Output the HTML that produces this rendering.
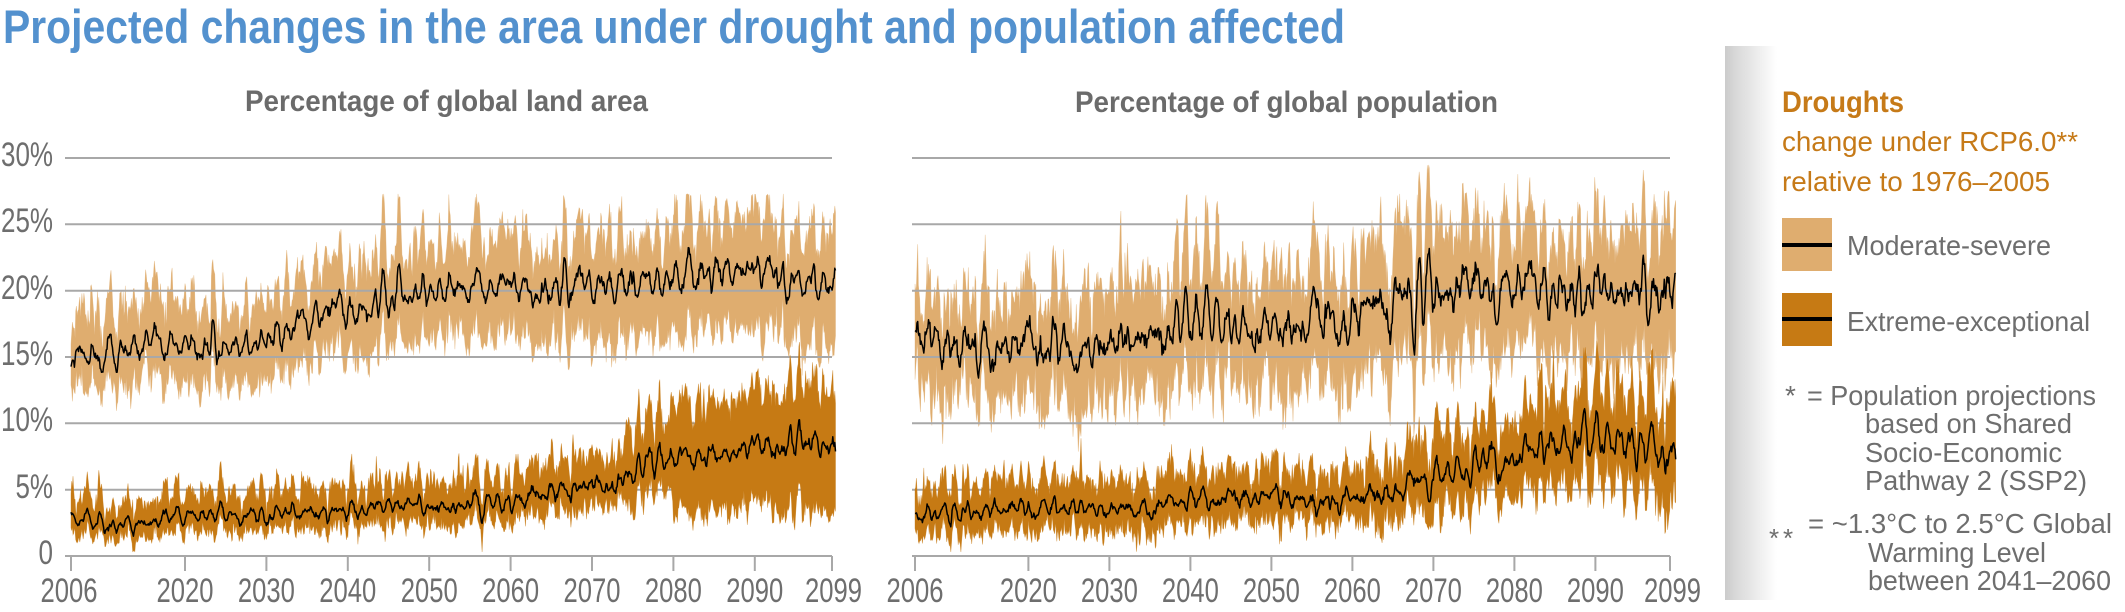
<!DOCTYPE html>
<html><head><meta charset="utf-8">
<style>
html,body{margin:0;padding:0;background:#fff;width:2125px;height:612px;overflow:hidden}
svg{display:block}
text{font-family:"Liberation Sans",Arial,sans-serif}
</style></head><body>
<svg id="c" width="2125" height="612" viewBox="0 0 2125 612" xmlns="http://www.w3.org/2000/svg">
<defs>
<linearGradient id="lg" x1="0" x2="1" y1="0" y2="0">
<stop offset="0" stop-color="#cbcbcb"/><stop offset="0.2" stop-color="#d8d8d8"/><stop offset="1" stop-color="#ffffff"/>
</linearGradient>
</defs>
<rect x="0" y="0" width="2125" height="612" fill="#fff"/>
<rect x="1725" y="46" width="52" height="554" fill="url(#lg)"/>

<text x="3" y="43" font-size="47" font-weight="bold" fill="#5391ce" textLength="1342" lengthAdjust="spacingAndGlyphs">Projected changes in the area under drought and population affected</text>
<text x="245" y="111" font-size="30" font-weight="bold" fill="#6b6b6b" textLength="403" lengthAdjust="spacingAndGlyphs">Percentage of global land area</text>
<text x="1075" y="112" font-size="30" font-weight="bold" fill="#6b6b6b" textLength="423" lengthAdjust="spacingAndGlyphs">Percentage of global population</text>

<g id="modBands"></g>
<g id="grid" stroke="#a8a8a8" stroke-width="2" fill="none">
<path d="M65,158H832M65,224.3H832M65,290.7H832M65,357H832M65,423.3H832M65,489.7H832M65,556H832"/>
<path d="M912,158H1670M912,224.3H1670M912,290.7H1670M912,357H1670M912,423.3H1670M912,489.7H1670M912,556H1670"/>
<path d="M71,556V571M185,556V571M266.4,556V571M347.8,556V571M429.2,556V571M510.6,556V571M592,556V571M673.4,556V571M754.8,556V571M832,556V571"/>
<path d="M915,556V571M1028.4,556V571M1109.4,556V571M1190.4,556V571M1271.4,556V571M1352.4,556V571M1433.4,556V571M1514.4,556V571M1595.4,556V571M1670,556V571"/>
</g>
<g id="extBands"></g>
<g id="medLines" fill="none" stroke="#000" stroke-width="1.5" stroke-linejoin="round"></g>

<g font-size="34" fill="#6e6e6e">
<text x="1" y="166" textLength="52" lengthAdjust="spacingAndGlyphs">30%</text>
<text x="1" y="232" textLength="52" lengthAdjust="spacingAndGlyphs">25%</text>
<text x="1" y="299" textLength="52" lengthAdjust="spacingAndGlyphs">20%</text>
<text x="1" y="365" textLength="52" lengthAdjust="spacingAndGlyphs">15%</text>
<text x="1" y="431" textLength="52" lengthAdjust="spacingAndGlyphs">10%</text>
<text x="15.5" y="498" textLength="37.5" lengthAdjust="spacingAndGlyphs">5%</text>
<text x="38.5" y="564" textLength="14.5" lengthAdjust="spacingAndGlyphs">0</text>

<text x="40.5" y="602" textLength="57" lengthAdjust="spacingAndGlyphs">2006</text>
<text x="156.5" y="602" textLength="57" lengthAdjust="spacingAndGlyphs">2020</text>
<text x="237.9" y="602" textLength="57" lengthAdjust="spacingAndGlyphs">2030</text>
<text x="319.3" y="602" textLength="57" lengthAdjust="spacingAndGlyphs">2040</text>
<text x="400.7" y="602" textLength="57" lengthAdjust="spacingAndGlyphs">2050</text>
<text x="482.1" y="602" textLength="57" lengthAdjust="spacingAndGlyphs">2060</text>
<text x="563.5" y="602" textLength="57" lengthAdjust="spacingAndGlyphs">2070</text>
<text x="644.9" y="602" textLength="57" lengthAdjust="spacingAndGlyphs">2080</text>
<text x="726.3" y="602" textLength="57" lengthAdjust="spacingAndGlyphs">2090</text>
<text x="805" y="602" textLength="57" lengthAdjust="spacingAndGlyphs">2099</text>

<text x="886.5" y="602" textLength="57" lengthAdjust="spacingAndGlyphs">2006</text>
<text x="999.9" y="602" textLength="57" lengthAdjust="spacingAndGlyphs">2020</text>
<text x="1080.9" y="602" textLength="57" lengthAdjust="spacingAndGlyphs">2030</text>
<text x="1161.9" y="602" textLength="57" lengthAdjust="spacingAndGlyphs">2040</text>
<text x="1242.9" y="602" textLength="57" lengthAdjust="spacingAndGlyphs">2050</text>
<text x="1323.9" y="602" textLength="57" lengthAdjust="spacingAndGlyphs">2060</text>
<text x="1404.9" y="602" textLength="57" lengthAdjust="spacingAndGlyphs">2070</text>
<text x="1485.9" y="602" textLength="57" lengthAdjust="spacingAndGlyphs">2080</text>
<text x="1566.9" y="602" textLength="57" lengthAdjust="spacingAndGlyphs">2090</text>
<text x="1644" y="602" textLength="57" lengthAdjust="spacingAndGlyphs">2099</text>
</g>

<!-- Legend -->
<text x="1782" y="112" font-size="30" font-weight="bold" fill="#c67a18" textLength="122" lengthAdjust="spacingAndGlyphs">Droughts</text>
<text x="1782" y="151" font-size="28" fill="#c67a18" textLength="296" lengthAdjust="spacingAndGlyphs">change under RCP6.0**</text>
<text x="1782" y="191" font-size="28" fill="#c67a18" textLength="268" lengthAdjust="spacingAndGlyphs">relative to 1976–2005</text>

<rect x="1782" y="218" width="50" height="53" fill="#dfad6f"/>
<rect x="1782" y="243" width="50" height="4" fill="#000"/>
<text x="1847" y="255" font-size="28" fill="#6e6e6e" textLength="204" lengthAdjust="spacingAndGlyphs">Moderate-severe</text>

<rect x="1782" y="293" width="50" height="53" fill="#c67a14"/>
<rect x="1782" y="317" width="50" height="4" fill="#000"/>
<text x="1847" y="331" font-size="28" fill="#6e6e6e" textLength="243" lengthAdjust="spacingAndGlyphs">Extreme-exceptional</text>

<g font-size="28" fill="#6e6e6e">
<text x="1785" y="405">*</text>
<text x="1807" y="405" textLength="289" lengthAdjust="spacingAndGlyphs">= Population projections</text>
<text x="1865" y="433" textLength="207" lengthAdjust="spacingAndGlyphs">based on Shared</text>
<text x="1865" y="462" textLength="197" lengthAdjust="spacingAndGlyphs">Socio-Economic</text>
<text x="1865" y="490" textLength="222" lengthAdjust="spacingAndGlyphs">Pathway 2 (SSP2)</text>
<text x="1769" y="547" font-size="26">*</text>
<text x="1783" y="547" font-size="26">*</text>
<text x="1808" y="533" textLength="304" lengthAdjust="spacingAndGlyphs">= ~1.3°C to 2.5°C Global</text>
<text x="1868" y="562" textLength="178" lengthAdjust="spacingAndGlyphs">Warming Level</text>
<text x="1868" y="590" textLength="243" lengthAdjust="spacingAndGlyphs">between 2041–2060</text>
</g>
</svg>
<script>
(function(){
var NS="http://www.w3.org/2000/svg";
function mkRng(seed){var s=seed>>>0;return function(){s=(s+0x6D2B79F5)>>>0;var t=s;t=Math.imul(t^(t>>>15),t|1);t^=t+Math.imul(t^(t>>>7),t|61);return((t^(t>>>14))>>>0)/4294967296;};}
function gauss(r){var u=r();if(u<1e-9)u=1e-9;var v=r();return Math.sqrt(-2*Math.log(u))*Math.cos(2*Math.PI*v);}
function ip(kp,t){if(typeof kp==="number")return kp;if(t<=kp[0][0])return kp[0][1];for(var i=1;i<kp.length;i++){if(t<=kp[i][0]){var a=kp[i-1],b=kp[i];return a[1]+(b[1]-a[1])*(t-a[0])/(b[0]-a[0]);}}return kp[kp.length-1][1];}
function norm(a){var n=a.length,m=0,i;for(i=0;i<n;i++)m+=a[i];m/=n;var s=0;for(i=0;i<n;i++)s+=(a[i]-m)*(a[i]-m);s=Math.sqrt(s/n)||1;return a.map(function(v){return (v-m)/s;});}
function ar2(n,r,P,R){var a1=2*r*Math.cos(2*Math.PI/P),a2=-r*r,x1=0,x2=0,o=[];for(var i=0;i<n+60;i++){var x=a1*x1+a2*x2+gauss(R);x2=x1;x1=x;if(i>=60)o.push(x);}return norm(o);}
function ar1(n,phi,R){var x=0,o=[];for(var i=0;i<n+60;i++){x=phi*x+gauss(R);if(i>=60)o.push(x);}return norm(o);}
var N=1128;
function gen(c,seed){
 var R=mkRng(seed);
 var osc=ar2(N,0.9,c.P||16,R),slow=ar1(N,0.985,R),hf=ar1(N,0.3,R),nu=ar1(N,0.5,R),nl=ar1(N,0.5,R);
 var sp=[],i,sa=c.spa||1.8;for(i=0;i<N;i++)sp.push(0);
 for(i=0;i<N;i++){if(R()<(c.sp||0.035)){var a=0.8+R()*sa;sp[i]+=a;if(i>0)sp[i-1]+=a*0.45;if(i<N-1)sp[i+1]+=a*0.45;}}
 var med=[],up=[],lo=[];
 for(i=0;i<N;i++){var t=2006+i/12,tr=ip(c.med,t),sd=ip(c.sd,t);
  var dev=sd*(0.8*osc[i]+0.4*slow[i]+0.25*hf[i]);
  var m=tr+dev;med.push(m);
  var su=ip(c.nu,t),sl=ip(c.nl,t);
  var u=tr+1.6*dev+ip(c.wu,t)+su*(0.7*nu[i]+sp[i]);
  var l=tr+0.9*dev-ip(c.wl,t)+sl*nl[i];
  if(u<m+0.4)u=m+0.4;if(l>m-0.3)l=m-0.3;if(l<0.3)l=0.3;
  if(c.cap&&u>c.cap)u=c.cap-(u-c.cap)*0.2;
  up.push(u);lo.push(l);}
 return {med:med,up:up,lo:lo};
}
function mk(tag,attrs,parent){var e=document.createElementNS(NS,tag);for(var k in attrs)e.setAttribute(k,attrs[k]);parent.appendChild(e);return e;}
function draw(d,X0,sx,fill,gBand){
 function X(i){return (X0+(i/12)*sx).toFixed(1);}
 function Y(v){return (556-v*13.267).toFixed(1);}
 var p="M"+X(0)+","+Y(d.up[0]),i;
 for(i=1;i<N;i++)p+="L"+X(i)+","+Y(d.up[i]);
 for(i=N-1;i>=0;i--)p+="L"+X(i)+","+Y(d.lo[i]);
 p+="Z";
 mk("path",{d:p,fill:fill,stroke:fill,"stroke-width":"0.6","stroke-opacity":"0.6"},gBand);
 var q="M"+X(0)+","+Y(d.med[0]);
 for(i=1;i<N;i++)q+="L"+X(i)+","+Y(d.med[i]);
 return q;
}
var LM={med:[[2006,15.3],[2010,14.8],[2015,15.5],[2020,16],[2026,16.3],[2030,16.8],[2035,17.8],[2040,18.6],[2045,19.2],[2050,19.6],[2060,20.3],[2070,20.8],[2080,21],[2090,21],[2099,20.8]],
 sd:[[2006,0.7],[2040,0.8],[2099,0.9]],wu:[[2006,3.0],[2040,3.3],[2060,3.6],[2099,3.8]],wl:[[2006,2.4],[2040,3.2],[2060,3.8],[2099,4.6]],nu:0.8,nl:0.6,spa:1.2,cap:27.3};
var LE={med:[[2006,3],[2010,2.5],[2015,2.7],[2020,3.1],[2025,2.9],[2030,3],[2035,3.1],[2040,3.4],[2045,3.9],[2050,3.7],[2055,3.9],[2060,4.1],[2065,4.6],[2070,5.2],[2073,5.1],[2075,6],[2080,7.3],[2085,7.8],[2090,8.6],[2095,8.9],[2099,8.6]],
 sd:[[2006,0.35],[2060,0.45],[2075,0.6],[2099,0.7]],
 wu:[[2006,1.7],[2040,1.8],[2060,2],[2073.9,2.2],[2074,3],[2079.9,3.2],[2080,4],[2099,4.5]],
 wl:[[2006,1.1],[2040,1.2],[2060,1.5],[2073.9,1.5],[2074,2.3],[2079.9,2.5],[2080,4],[2099,5.2]],
 nu:[[2006,0.45],[2070,0.6],[2099,0.8]],nl:[[2006,0.25],[2099,0.5]]};
var RM={med:[[2006,16.8],[2010,16],[2015,15.5],[2020,15.6],[2025,15.3],[2030,15.5],[2035,16.2],[2040,17],[2045,17.4],[2050,17.6],[2055,18],[2060,18.4],[2065,18.8],[2070,19.5],[2075,20.2],[2080,20.6],[2090,20.6],[2099,20]],
 sd:[[2006,1.1],[2099,1.3]],wu:[[2006,3.2],[2040,4],[2070,4.5],[2099,4.8]],wl:[[2006,4],[2040,4.2],[2070,4.8],[2099,5.2]],nu:1.0,nl:1.0,spa:1.4,cap:29.5};
var RE={med:[[2006,3.3],[2015,3.2],[2020,3.6],[2025,3.4],[2030,3.5],[2035,3.7],[2040,4],[2045,4.6],[2050,4.5],[2055,4.4],[2060,4.7],[2065,5],[2070,5.6],[2075,6.8],[2080,7.8],[2085,8],[2090,8.6],[2095,8.4],[2099,7.8]],
 sd:[[2006,0.45],[2060,0.55],[2075,0.8],[2099,0.95]],wu:[[2006,2],[2040,2.2],[2060,2.3],[2075,3],[2099,3.8]],
 wl:[[2006,1.6],[2040,1.7],[2060,1.9],[2075,2.6],[2099,3.6]],nu:[[2006,0.5],[2099,0.9]],nl:[[2006,0.35],[2099,0.7]]};
var gM=document.getElementById("modBands"),gE=document.getElementById("extBands"),gL=document.getElementById("medLines");
var paths=[];
paths.push(draw(gen(LM,11),71,8.14,"#dfad6f",gM));
paths.push(draw(gen(RM,23),915,8.1,"#dfad6f",gM));
paths.push(draw(gen(LE,37),71,8.14,"#c67a14",gE));
paths.push(draw(gen(RE,51),915,8.1,"#c67a14",gE));
for(var i=0;i<paths.length;i++)mk("path",{d:paths[i]},gL);
})();
</script>
</body></html>
